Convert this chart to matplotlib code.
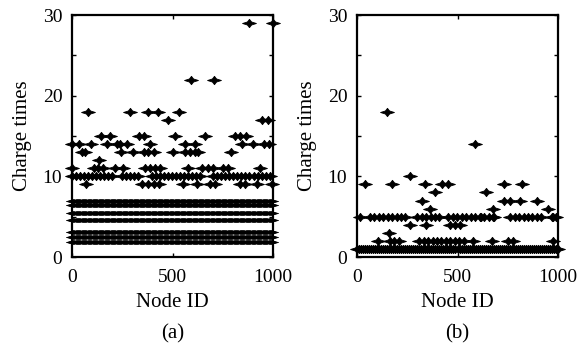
import numpy as np
import matplotlib
matplotlib.use("Agg")
import matplotlib.pyplot as plt
from matplotlib.ticker import MultipleLocator
from matplotlib.path import Path

plt.rcParams['font.family'] = ['Liberation Serif', 'DejaVu Serif']

# ---------------- Panel (a) data ----------------
# sparse rows: value -> node IDs
a_rows = {
    29: [882, 1000],
    22: [590, 708],
    18: [80, 288, 377, 427, 530],
    17: [477, 943, 975],
    15: [145, 188, 335, 356, 512, 664, 813, 838, 865],
    14: [0, 33, 95, 173, 223, 240, 272, 389, 562, 612, 844, 902, 955, 978],
    13: [49, 66, 244, 305, 357, 379, 408, 504, 562, 587, 612, 629, 792],
    12: [134],
    11: [0, 107, 130, 154, 213, 252, 365, 390, 415, 440, 579, 645, 678, 703,
         753, 778, 935],
    9: [70, 348, 378, 406, 431, 554, 620, 686, 711, 835, 860, 918, 993],
}
# semi-dense rows: value -> (node-ID segments, spacing between node IDs)
a_semi = {
    10: ([(0, 215), (249, 348), (398, 653), (703, 1000)], 20),
}
# dense bands (markers merge into lines)
a_dense = {
    7: ([(0, 1000)], 6),
    6.4: ([(0, 1000)], 6),
    5.5: ([(0, 1000)], 6),
    4.6: ([(0, 1000)], 6),
    3.1: ([(0, 1000)], 6),
    2.45: ([(0, 1000)], 6),
    1.8: ([(0, 1000)], 6),
}

# ---------------- Panel (b) data ----------------
b_rows = {
    18: [147],
    14: [587],
    10: [264],
    9: [42, 172, 340, 421, 454, 730, 822],
    8: [387, 641],
    7: [325, 730, 763, 811, 898],
    6: [363, 678, 952],
    5: [15, 617, 683, 977],
    4: [264, 345, 463, 490, 512],
    3: [161],
    2: [106, 670, 578, 977],
}
b_semi = {
    5: ([(65, 247), (300, 415), (455, 587), (612, 695), (763, 927),
         (969, 993)], 22),
    2: ([(164, 214), (310, 537), (753, 794)], 22),
    1: ([(0, 1000)], 10),
}
b_dense = {}

xticks = [0, 500, 1000]
yticks = [0, 10, 20, 30]
sub_labels = ['(a)', '(b)']


def expand(dense):
    xs, ys = [], []
    for val, (segs, step) in dense.items():
        for s, e in segs:
            ids = np.arange(s, e + 1, step)
            xs.extend(ids)
            ys.extend([val] * len(ids))
    return xs, ys


def sparse(rows):
    xs, ys = [], []
    for val, ids in rows.items():
        xs.extend(ids)
        ys.extend([val] * len(ids))
    return xs, ys


def star_marker(v, c=0.2):
    verts = [(-1, 0), (-0.3, c), (0, v), (0.3, c), (1, 0),
             (0.3, -c), (0, -v), (-0.3, -c), (-1, 0)]
    codes = [Path.MOVETO] + [Path.LINETO] * 7 + [Path.CLOSEPOLY]
    return Path(verts, codes)


star = star_marker(0.6, 0.22)
flat = star_marker(0.3, 0.18)

fig = plt.figure(figsize=(5.81, 3.51), dpi=100)
W, H = 581, 351
boxes = [(72, 15, 273, 257), (357, 15, 558, 257)]
datasets = [(a_rows, a_semi, a_dense), (b_rows, b_semi, b_dense)]

for i, ((l, t, r, b), (rows, semi, dense)) in enumerate(zip(boxes, datasets)):
    ax = fig.add_axes([l / W, 1 - b / H, (r - l) / W, (b - t) / H])
    xs, ys = expand(dense)
    ax.plot(xs, ys, linestyle='none', marker=flat, ms=9, mew=0.4,
            mec='black', mfc='black', clip_on=False)
    for xs, ys in (expand(semi), sparse(rows)):
        ax.plot(xs, ys, linestyle='none', marker=star, ms=10, mew=0.6,
                mec='black', mfc='black', clip_on=False)
    ax.set_xlim(0, 1000)
    ax.set_ylim(0, 30)
    ax.set_xticks(xticks)
    ax.set_yticks(yticks)
    ax.yaxis.set_minor_locator(MultipleLocator(5))
    ax.tick_params(which='both', direction='in', top=True, right=True,
                   length=3, width=1, labelsize=14)
    ax.tick_params(axis='x', pad=9)
    ax.tick_params(axis='y', pad=7)
    for sp in ax.spines.values():
        sp.set_linewidth(1.6)
    ax.set_xlabel('Node ID', fontsize=15, labelpad=5)
    ax.set_ylabel('Charge times', fontsize=15, labelpad=8)
    cx = (l + r) / 2 / W
    fig.text(cx, 1 - 334 / H, sub_labels[i], ha='center', va='center',
             fontsize=15)

fig.savefig('out.png', dpi=100)
